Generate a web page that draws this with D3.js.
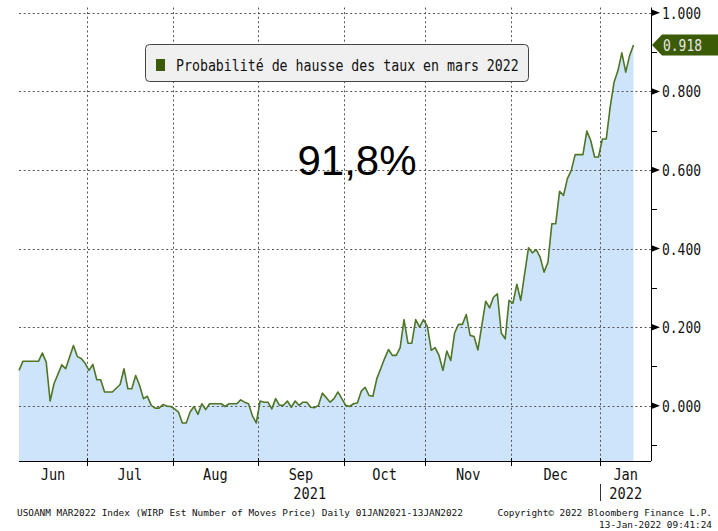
<!DOCTYPE html>
<html>
<head>
<meta charset="utf-8">
<script src="https://cdn.jsdelivr.net/npm/d3@7"></script>
<style>
  body { margin: 0; background: #fff; }
  svg { display: block; }
  .mono { font-family: "DejaVu Sans Mono", monospace; }
</style>
</head>
<body>
<div id="chart"></div>
<script>
// données (jours ouvrés, points de cassure)
const dates = [
  '2021-06-07','2021-06-08','2021-06-14','2021-06-15','2021-06-16','2021-06-17','2021-06-18','2021-06-22','2021-06-23','2021-06-25',
  '2021-06-28','2021-06-29','2021-06-30','2021-07-01','2021-07-02','2021-07-05','2021-07-06','2021-07-07','2021-07-09','2021-07-13',
  '2021-07-14','2021-07-15','2021-07-16','2021-07-19','2021-07-20','2021-07-21','2021-07-22','2021-07-23','2021-07-26','2021-07-27',
  '2021-07-28','2021-07-29','2021-07-30','2021-08-02','2021-08-03','2021-08-04','2021-08-05','2021-08-06','2021-08-09','2021-08-10',
  '2021-08-11','2021-08-12','2021-08-13','2021-08-18','2021-08-19','2021-08-20','2021-08-24','2021-08-25','2021-08-26','2021-08-27',
  '2021-08-30','2021-08-31','2021-09-01','2021-09-02','2021-09-03','2021-09-06','2021-09-07','2021-09-08','2021-09-09','2021-09-10',
  '2021-09-13','2021-09-14','2021-09-15','2021-09-16','2021-09-17','2021-09-20','2021-09-21','2021-09-22','2021-09-23','2021-09-27',
  '2021-09-28','2021-09-29','2021-09-30','2021-10-01','2021-10-04','2021-10-05','2021-10-06','2021-10-07','2021-10-08','2021-10-11',
  '2021-10-12','2021-10-13','2021-10-14','2021-10-15','2021-10-18','2021-10-19','2021-10-20','2021-10-21','2021-10-22','2021-10-25',
  '2021-10-26','2021-10-27','2021-10-28','2021-10-29','2021-11-01','2021-11-02','2021-11-03','2021-11-04','2021-11-05','2021-11-08',
  '2021-11-09','2021-11-10','2021-11-11','2021-11-12','2021-11-15','2021-11-16','2021-11-17','2021-11-18','2021-11-22','2021-11-23',
  '2021-11-24','2021-11-25','2021-11-26','2021-11-29','2021-11-30','2021-12-01','2021-12-02','2021-12-03','2021-12-07','2021-12-08',
  '2021-12-09','2021-12-10','2021-12-13','2021-12-14','2021-12-15','2021-12-16','2021-12-17','2021-12-20','2021-12-21','2021-12-22',
  '2021-12-23','2021-12-27','2021-12-28','2021-12-29','2021-12-30','2021-12-31','2022-01-03','2022-01-04','2022-01-05','2022-01-06',
  '2022-01-07','2022-01-10','2022-01-11','2022-01-12','2022-01-13'
];
const values = [
  0.090, 0.113, 0.113, 0.134, 0.111, 0.012, 0.056, 0.104, 0.094, 0.153,
  0.125, 0.120, 0.108, 0.090, 0.105, 0.066, 0.066, 0.035, 0.035, 0.054,
  0.094, 0.043, 0.043, 0.077, 0.052, 0.018, 0.024, 0.001, -0.006, -0.006,
  0.003, -0.001, -0.002, -0.008, -0.016, -0.044, -0.044, -0.016, -0.002, -0.022,
  0.005, -0.010, 0.005, 0.005, -0.002, 0.005, 0.005, 0.015, 0.009, 0.005,
  -0.025, -0.044, 0.012, 0.009, 0.009, -0.008, 0.018, 0.001, 0.001, 0.012,
  -0.004, 0.012, 0.001, 0.009, 0.009, -0.004, -0.005, 0.001, 0.032, 0.009,
  0.018, 0.035, 0.018, 0.001, -0.002, 0.005, 0.007, 0.037, 0.047, 0.026,
  0.024, 0.069, 0.094, 0.120, 0.143, 0.128, 0.128, 0.148, 0.219, 0.159,
  0.159, 0.219, 0.200, 0.219, 0.202, 0.141, 0.148, 0.128, 0.090, 0.139,
  0.115, 0.185, 0.207, 0.207, 0.232, 0.179, 0.176, 0.142, 0.266, 0.249,
  0.276, 0.285, 0.185, 0.170, 0.268, 0.261, 0.309, 0.268, 0.402, 0.389,
  0.397, 0.378, 0.340, 0.365, 0.463, 0.463, 0.546, 0.535, 0.578, 0.599,
  0.639, 0.639, 0.699, 0.675, 0.633, 0.633, 0.679, 0.679, 0.760, 0.823,
  0.853, 0.898, 0.849, 0.891, 0.918
];

const majorTicks = [0, 0.2, 0.4, 0.6, 0.8, 1.0];
const minorTicks = [-0.1, 0.1, 0.3, 0.5, 0.7, 0.9];
const monthStarts = ['2021-07-01','2021-08-01','2021-09-01','2021-10-01','2021-11-01','2021-12-01','2022-01-01'];
const monthLabels = ['Jun','Jul','Aug','Sep','Oct','Nov','Dec','Jan'];
const yearLabels = ['2021', '2022'];
const lastValue = 0.918;
const legendText = 'Probabilité de hausse des taux en mars 2022';
const bigLabel = '91,8%';
const footerLeft = 'USOANM MAR2022 Index (WIRP Est Number of Moves Price)  Daily 01JAN2021-13JAN2022';
const footerCopy = 'Copyright\u00a9 2022 Bloomberg Finance L.P.';
const footerStamp = '13-Jan-2022 09:41:24';

const W = 718, H = 531;
const plot = { left: 19, right: 651, top: 7.5, bottom: 461 };
const lineColor = '#4f7526';
const tagColor = '#3b5b06';

const parse = d3.timeParse('%Y-%m-%d');
const startDate = parse(dates[0]);

// nombre de jours ouvrés entre le début et d (exclu)
function bizIndex(d) {
  let n = 0;
  for (let t = new Date(startDate); t < d; t.setDate(t.getDate() + 1)) {
    const wd = t.getDay();
    if (wd !== 0 && wd !== 6) n++;
  }
  return n;
}

const data = dates.map((d, i) => ({ i: bizIndex(parse(d)), v: values[i] }));
const monthPos = monthStarts.map(d => bizIndex(parse(d)) - 0.5);

const x = d3.scaleLinear().domain([0, 162.5]).range([plot.left, plot.right]);
const y = d3.scaleLinear().domain([-0.1407, 1.0135]).range([plot.bottom, plot.top]);

// condense le texte comme la police Bloomberg
function squeeze(sel, perChar) {
  sel.attr('textLength', function () { return this.textContent.length * perChar; })
     .attr('lengthAdjust', 'spacingAndGlyphs');
  return sel;
}

const svg = d3.select('#chart').append('svg')
  .attr('width', W).attr('height', H);

// aire
svg.append('path')
  .datum(data)
  .attr('fill', '#cde4fb')
  .attr('d', d3.area().x(d => x(d.i)).y0(plot.bottom).y1(d => y(d.v)));

// grille pointillée
const grid = svg.append('g').attr('stroke', '#555').attr('stroke-width', 1).attr('stroke-dasharray', '2,2.6');
grid.selectAll('.h').data(majorTicks).join('line')
  .attr('x1', plot.left).attr('x2', plot.right)
  .attr('y1', d => Math.round(y(d)) + 0.5).attr('y2', d => Math.round(y(d)) + 0.5);
grid.selectAll('.v').data(monthPos).join('line')
  .attr('x1', d => Math.round(x(d)) + 0.5).attr('x2', d => Math.round(x(d)) + 0.5)
  .attr('y1', plot.top).attr('y2', plot.bottom);

// courbe
svg.append('path')
  .datum(data)
  .attr('fill', 'none')
  .attr('stroke', lineColor)
  .attr('stroke-width', 1.6)
  .attr('stroke-linejoin', 'round')
  .attr('d', d3.line().x(d => x(d.i)).y(d => y(d.v)));

// axe droit
const ax = svg.append('g');
ax.append('line').attr('x1', plot.right + 0.5).attr('x2', plot.right + 0.5)
  .attr('y1', plot.top).attr('y2', plot.bottom).attr('stroke', '#000');
ax.selectAll('.tri').data(majorTicks).join('path')
  .attr('fill', '#000')
  .attr('d', d => {
    const yy = y(d);
    return `M${plot.right},${yy - 3.5}L${plot.right + 9},${yy}L${plot.right},${yy + 3.5}Z`;
  });
ax.selectAll('.minor').data(minorTicks).join('line')
  .attr('x1', plot.right).attr('x2', plot.right + 6)
  .attr('y1', d => Math.round(y(d)) + 0.5).attr('y2', d => Math.round(y(d)) + 0.5)
  .attr('stroke', '#000');
squeeze(ax.selectAll('.lab').data(majorTicks).join('text')
  .attr('class', 'mono')
  .attr('x', plot.right + 11).attr('y', d => y(d) + 6)
  .attr('font-size', 16).attr('fill', '#111')
  .text(d => d3.format('.3f')(d)), 7.8);

// étiquette de la dernière valeur
const ty = y(lastValue);
svg.append('path')
  .attr('fill', tagColor)
  .attr('d', `M${plot.right + 1},${ty}L${plot.right + 11},${ty - 10.5}L${W},${ty - 10.5}L${W},${ty + 10.5}L${plot.right + 11},${ty + 10.5}Z`);
squeeze(svg.append('text')
  .attr('class', 'mono')
  .attr('x', plot.right + 12).attr('y', ty + 6)
  .attr('font-size', 16).attr('fill', '#e6e6e6')
  .text(d3.format('.3f')(lastValue)), 7.8);

// axe du bas
svg.append('line').attr('x1', plot.left).attr('x2', plot.right)
  .attr('y1', plot.bottom + 0.5).attr('y2', plot.bottom + 0.5).attr('stroke', '#000');
svg.selectAll('.mtick').data(monthPos).join('line')
  .attr('x1', d => Math.round(x(d)) + 0.5).attr('x2', d => Math.round(x(d)) + 0.5)
  .attr('y1', plot.bottom - 3).attr('y2', plot.bottom + 5)
  .attr('stroke', '#000');
const bounds = [x.domain()[0]].concat(monthPos, [x.domain()[1]]);
squeeze(svg.selectAll('.mlab').data(monthLabels).join('text')
  .attr('class', 'mono')
  .attr('x', (d, i) => (x(bounds[i]) + x(bounds[i + 1])) / 2)
  .attr('y', 480)
  .attr('text-anchor', 'middle')
  .attr('font-size', 16).attr('fill', '#111')
  .text(d => d), 8.2);
const yearBounds = [[bounds[0], monthPos[6]], [monthPos[6], bounds[8]]];
squeeze(svg.selectAll('.ylab').data(yearLabels).join('text')
  .attr('class', 'mono')
  .attr('x', (d, i) => (x(yearBounds[i][0]) + x(yearBounds[i][1])) / 2)
  .attr('y', 499)
  .attr('text-anchor', 'middle')
  .attr('font-size', 16).attr('fill', '#111')
  .text(d => d), 8.2);
svg.append('line')
  .attr('x1', Math.round(x(monthPos[6])) + 0.5).attr('x2', Math.round(x(monthPos[6])) + 0.5)
  .attr('y1', 484).attr('y2', 501).attr('stroke', '#333');

// légende
const lg = svg.append('g');
lg.append('rect').attr('x', 145.5).attr('y', 44.5).attr('width', 383).attr('height', 37)
  .attr('rx', 4).attr('fill', '#f0f0f0').attr('stroke', '#444');
lg.append('rect').attr('x', 156).attr('y', 59).attr('width', 9).attr('height', 12).attr('fill', tagColor);
squeeze(lg.append('text').attr('class', 'mono')
  .attr('x', 176).attr('y', 71).attr('font-size', 16).attr('fill', '#111')
  .text(legendText), 7.97);

// annotation
svg.append('text')
  .attr('x', 357).attr('y', 175)
  .attr('text-anchor', 'middle')
  .attr('font-family', '"Liberation Sans", Arial, sans-serif')
  .attr('font-size', 42).attr('fill', '#000')
  .text(bigLabel);

// pied de page
const foot = svg.append('g').attr('class', 'mono').attr('font-size', 9.4).attr('fill', '#111');
foot.append('text').attr('x', 17).attr('y', 516).text(footerLeft);
foot.append('text').attr('x', 712).attr('y', 516).attr('text-anchor', 'end').text(footerCopy);
foot.append('text').attr('x', 712).attr('y', 528).attr('text-anchor', 'end').text(footerStamp);
</script>
</body>
</html>
